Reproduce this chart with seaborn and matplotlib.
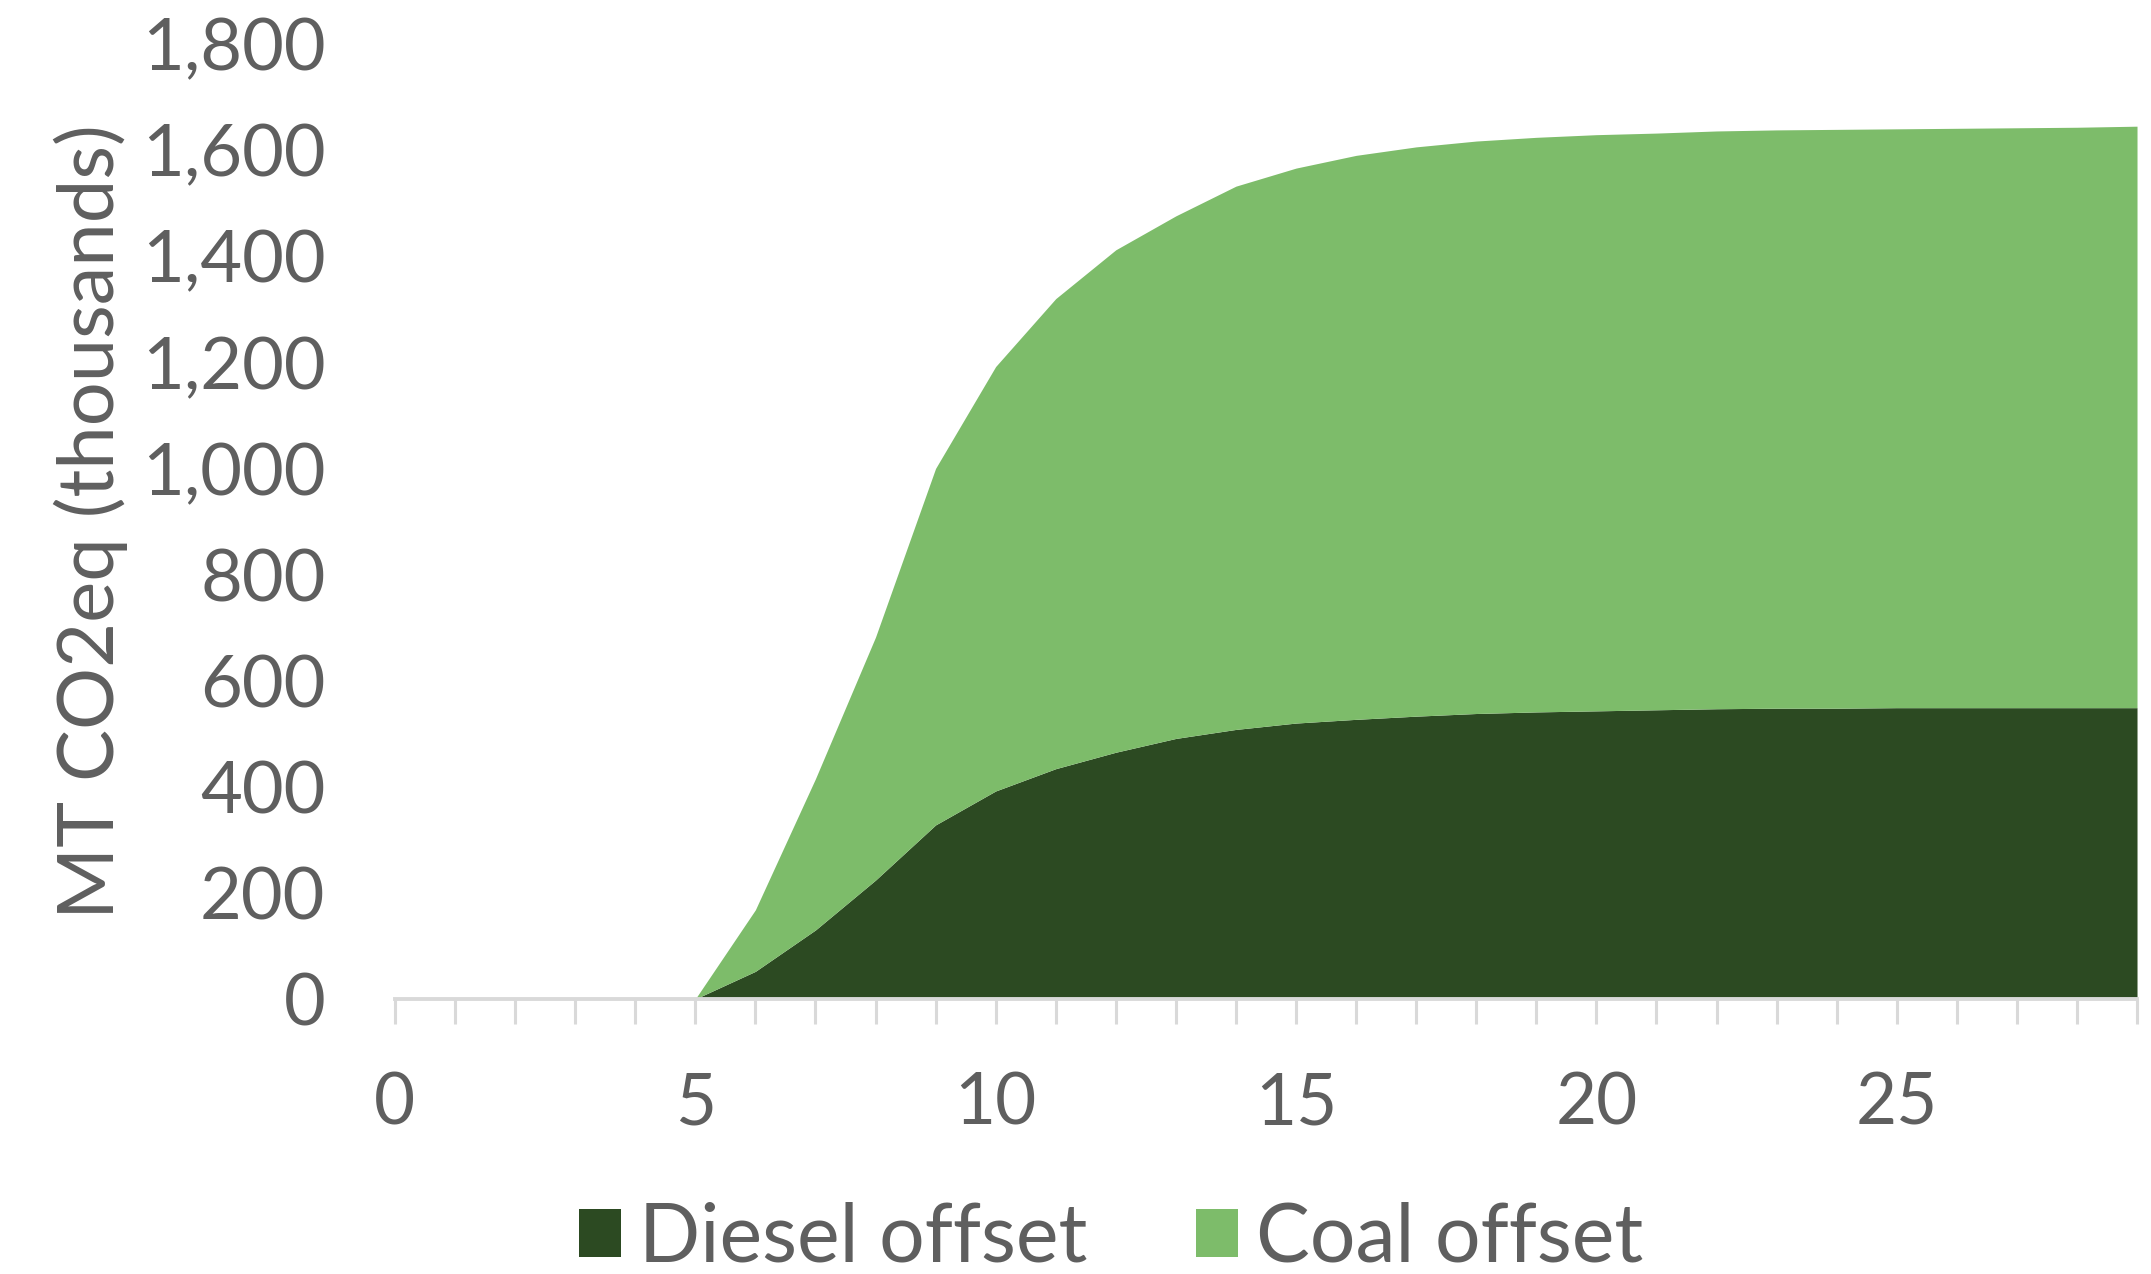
import matplotlib
matplotlib.use("Agg")
import matplotlib.pyplot as plt
from matplotlib.patches import Patch
from matplotlib.ticker import MultipleLocator, FuncFormatter
import seaborn as sns

# Project year
years = list(range(0, 30))

# Cumulative avoided emissions, MT CO2eq (thousands)
diesel_offset = [0, 0, 0, 0, 0, 0, 52, 130, 224, 328, 392, 434, 465, 491, 508,
                 520, 527, 533, 538, 541, 543, 545, 547, 548, 548, 549, 549,
                 549, 549, 549]
total_offset = [0, 0, 0, 0, 0, 0, 168, 415, 682, 1000, 1192, 1320, 1412, 1476,
                1532, 1566, 1590, 1606, 1617, 1624, 1629, 1632, 1636, 1638,
                1639, 1640, 1641, 1642, 1643, 1645]
coal_offset = [t - d for t, d in zip(total_offset, diesel_offset)]

series_names = ["Diesel offset", "Coal offset"]
colors = ["#2c4a22", "#7dbc6a"]
text_color = "#5f5f5f"
axis_color = "#d9d9d9"

sns.set_theme(style="white")
plt.rcParams["font.family"] = ["Lato", "DejaVu Sans"]
plt.rcParams["font.weight"] = "normal"

fig = plt.figure(figsize=(21.51, 12.74), dpi=100)
ax = fig.add_axes([0.1836, 0.2159, 0.8099, 0.7496])

ax.stackplot(years, diesel_offset, coal_offset, colors=colors,
             labels=series_names, linewidth=0)

ax.set_xlim(0, 29)
ax.set_ylim(0, 1800)

sns.despine(ax=ax, left=True, top=True, right=True)
ax.spines["bottom"].set_color(axis_color)
ax.spines["bottom"].set_linewidth(2.8)

ax.xaxis.set_major_locator(MultipleLocator(5))
ax.xaxis.set_minor_locator(MultipleLocator(1))
ax.yaxis.set_major_locator(MultipleLocator(200))
ax.yaxis.set_major_formatter(FuncFormatter(lambda v, p: f"{int(v):,}"))

ax.tick_params(axis="x", which="both", direction="out", length=18,
               width=2.2, color=axis_color, bottom=True)
ax.tick_params(axis="x", which="major", pad=34, labelsize=51,
               labelcolor=text_color)
ax.tick_params(axis="y", length=0, pad=50, labelsize=52,
               labelcolor=text_color)

ax.set_ylabel("MT CO2eq (thousands)", fontsize=56, color=text_color,
              labelpad=10)

handles = [Patch(facecolor=c, edgecolor="none") for c in colors]
fig.legend(handles, series_names, loc="center", ncol=2,
           bbox_to_anchor=(0.5166, 0.028), frameon=False, fontsize=58,
           labelcolor=text_color, handlelength=0.52, handleheight=0.55,
           handletextpad=0.22, columnspacing=1.35)

fig.savefig("out.png", dpi=100, facecolor="white")
